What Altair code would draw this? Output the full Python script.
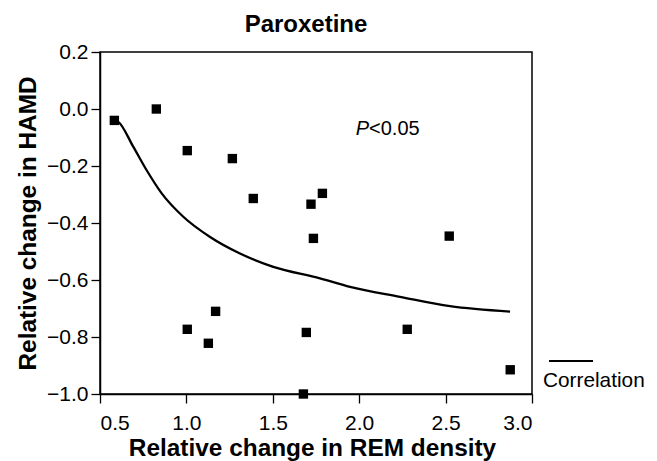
import altair as alt
import pandas as pd

# Scatter points (relative change in REM density, relative change in HAMD)
rem_x = [0.583, 0.826, 1.005, 1.266, 1.387, 1.721, 1.787, 1.735, 1.005, 1.169,
         1.127, 1.694, 1.677, 2.521, 2.278, 2.874]
hamd_y = [-0.040, 0.000, -0.146, -0.174, -0.314, -0.334, -0.296, -0.454, -0.773,
          -0.710, -0.822, -0.784, -1.000, -0.446, -0.773, -0.915]

# Correlation curve
curve_x = [0.590, 0.606, 0.693, 0.770, 0.857, 0.982, 1.137, 1.310, 1.503, 1.773,
           1.947, 2.236, 2.525, 2.873]
curve_y = [-0.040, -0.045, -0.133, -0.215, -0.296, -0.378, -0.449, -0.507, -0.554,
           -0.594, -0.624, -0.659, -0.692, -0.711]

x_ticks = [0.5, 1.0, 1.5, 2.0, 2.5, 3.0]
y_ticks = [-1.0, -0.8, -0.6, -0.4, -0.2, 0.0, 0.2]

annot_x = [2.057]
annot_y = [-0.09]

FONT = "Liberation Sans"

pts = pd.DataFrame({"x": rem_x, "y": hamd_y})
crv = pd.DataFrame({"x": curve_x, "y": curve_y})
ann = pd.DataFrame({"x": annot_x, "y": annot_y})
leg = pd.DataFrame({"label": ["Correlation"]})
ttl = pd.DataFrame({"label": ["Paroxetine"]})

xs = alt.Scale(domain=[0.5, 3.0], nice=False, zero=False)
ys = alt.Scale(domain=[-1.0, 0.2], nice=False, zero=False)

xaxis = alt.Axis(values=x_ticks, format=".1f", title="Relative change in REM density",
                 titleX=212, titleY=61, titleBaseline="alphabetic", titleAlign="center",
                 labelPadding=9)
yaxis = alt.Axis(values=y_ticks, format=".1f", title="Relative change in HAMD",
                 titleX=-65, titleY=171, titleAngle=-90, titleBaseline="alphabetic",
                 titleAlign="center", labelPadding=3)

points = alt.Chart(pts).mark_square(size=88, color="black", opacity=1).encode(
    x=alt.X("x:Q", scale=xs, axis=xaxis),
    y=alt.Y("y:Q", scale=ys, axis=yaxis),
)

curve = alt.Chart(crv).mark_line(color="black", strokeWidth=2.3, interpolate="monotone").encode(
    x=alt.X("x:Q", scale=xs),
    y=alt.Y("y:Q", scale=ys),
)

p_text = alt.Chart(ann).mark_text(text="P", fontStyle="italic", fontSize=20, font=FONT,
                                  align="right", baseline="alphabetic", color="black").encode(
    x=alt.X("x:Q", scale=xs), y=alt.Y("y:Q", scale=ys))
lt_text = alt.Chart(ann).mark_text(text="<0.05", fontSize=20, font=FONT,
                                   align="left", baseline="alphabetic", color="black").encode(
    x=alt.X("x:Q", scale=xs), y=alt.Y("y:Q", scale=ys))

leg_line = alt.Chart(leg).mark_rule(color="black", strokeWidth=2).encode(
    x=alt.value(449), x2=alt.value(493), y=alt.value(309))
leg_text = alt.Chart(leg).mark_text(fontSize=20.8, font=FONT, align="left",
                                    baseline="alphabetic", color="black").encode(
    x=alt.value(443), y=alt.value(335), text="label:N")

title_text = alt.Chart(ttl).mark_text(fontSize=24, fontWeight="bold", font=FONT,
                                      align="center", baseline="alphabetic",
                                      color="black").encode(
    x=alt.value(206), y=alt.value(-20), text="label:N")

chart = alt.layer(curve, points, p_text, lt_text, leg_line, leg_text, title_text).properties(
    width=432, height=342,
    autosize=alt.AutoSizeParams(type="none"),
    padding={"left": 92, "top": 44, "right": 117, "bottom": 67},
).configure_view(
    stroke="black", strokeWidth=1.5
).configure_axis(
    grid=False, domainColor="black", domainWidth=1.5, tickColor="black",
    tickWidth=1.3, tickSize=9, labelFontSize=21, labelFont=FONT, labelColor="black",
    titleFontSize=24.4, titleFont=FONT, titleFontWeight="bold", titleColor="black",
)

chart.save("out.html", embed_options={"renderer": "svg", "actions": False})
